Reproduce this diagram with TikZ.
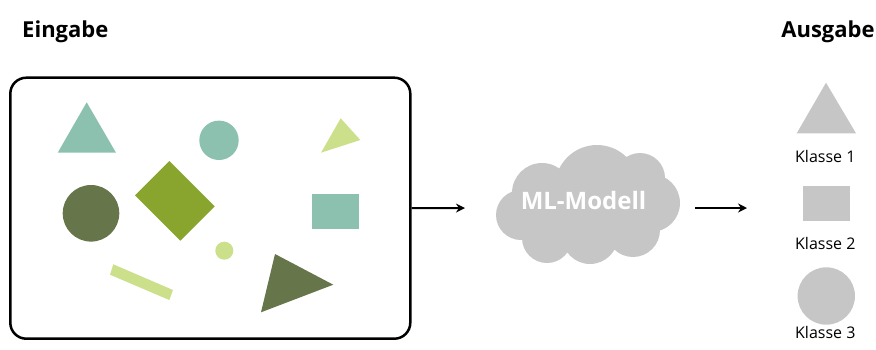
\documentclass[tikz,border=0pt]{standalone}
\usepackage{fontspec}
\setmainfont{Open Sans}
\usetikzlibrary{arrows.meta}
\definecolor{teal1}{HTML}{8BC1AE}
\definecolor{lgreen}{HTML}{CCDF8A}
\definecolor{dgreen}{HTML}{66754A}
\definecolor{olive}{HTML}{8AA52E}
\definecolor{grayc}{HTML}{C6C6C6}
\tikzset{
  title/.style={font=\fontsize{22}{26}\selectfont\bfseries, anchor=base, inner sep=0pt},
  lbl/.style={font=\fontsize{16}{19}\selectfont, anchor=base, inner sep=0pt},
  flow/.style={line width=2pt, -{Stealth[length=9pt,width=9pt]}},
}
\begin{document}
\begin{tikzpicture}[x=1pt,y=-1pt]
\useasboundingbox (0,0) rectangle (876,349);
% titles
\node[title] (ein) at (65.3,37.7) {Eingabe};
\node[title] (aus) at (828,37.7) {Ausgabe};
% input box
\node[draw, line width=2.5pt, rounded corners=16pt, minimum width=400pt, minimum height=261pt, inner sep=0pt] (box) at (210.3,208.2) {};
% shapes
\fill[teal1] (86.7,102.3) -- (116,152.7) -- (57.7,152.7) -- cycle;
\fill[teal1] (219,140.3) circle (19.7);
\fill[lgreen] (340.7,118.3) -- (360.3,140) -- (321,152.7) -- cycle;
\fill[dgreen] (91,213.3) circle (28.3);
\fill[olive] (169.3,161) -- (214.7,206.3) -- (180.3,240.7) -- (135,195.3) -- cycle;
\fill[teal1] (311.7,194) rectangle (359,229);
\fill[lgreen] (224.3,250.7) circle (9);
\fill[lgreen] (113.3,264.3) -- (173,290) -- (169.3,300) -- (110,274.7) -- cycle;
\fill[dgreen] (275,254) -- (333.3,284.7) -- (261,312.3) -- cycle;
% cloud
\fill[grayc] (597,187) circle (42) (542,193) circle (30) (521,215) circle (25)
  (547,238) circle (25) (590,236) circle (28) (633,230) circle (27)
  (651,203) circle (29) (640,178) circle (25) (565,215) circle (30) (615,210) circle (30);
\node[font=\fontsize{24}{28}\selectfont\bfseries, text=white, inner sep=0pt, anchor=base] (ml) at (583.5,209) {ML-Modell};
% arrows
\coordinate (a1e) at (465,208);
\coordinate (a2s) at (695,208);
\coordinate (a2e) at (747,208);
\draw[flow] (box.east) -- (a1e);
\draw[flow] (a2s) -- (a2e);
% output classes
\fill[grayc] (826,82.7) -- (856,133.3) -- (796.7,133.3) -- cycle;
\node[lbl] (k1) at (825.3,162.7) {Klasse 1};
\fill[grayc] (802.7,185.7) rectangle (850,220.7);
\node[lbl] (k2) at (825.3,249.5) {Klasse 2};
\fill[grayc] (826.3,296) circle (28.7);
\node[lbl] (k3) at (825.3,338) {Klasse 3};
\end{tikzpicture}
\end{document}
